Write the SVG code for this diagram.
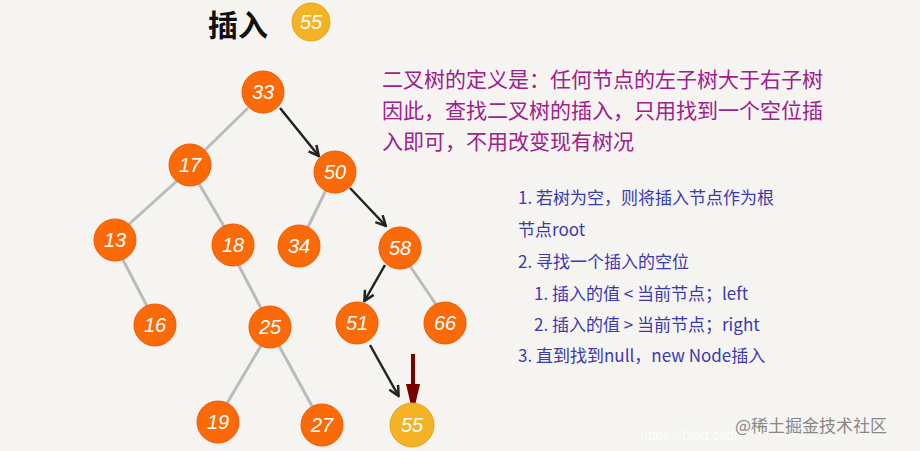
<svg xmlns="http://www.w3.org/2000/svg" width="920" height="451" viewBox="0 0 920 451">
<style>
.n circle{fill:#fb6a08;stroke:#f25a00;stroke-width:1}
.y circle{fill:#f4b324;stroke:#eaa21c}
.n text{fill:#fff;font-family:"Liberation Sans",sans-serif;font-size:20px;text-anchor:middle;font-style:italic}
.e{stroke:#bbb;stroke-width:3;fill:none}
.a{stroke:#222;stroke-width:2.5;fill:none;marker-end:url(#ah)}
.p{fill:#a0208c;font-family:"Noto Sans CJK SC",sans-serif;font-size:21px}
.b{fill:#3a3ab0;font-family:"Noto Sans CJK SC",sans-serif;font-size:17px}
</style>
<defs>
<marker id="ah" viewBox="0 0 10 10" refX="8" refY="5" markerWidth="5" markerHeight="5" orient="auto"><path d="M1,1 L9,5 L1,9" fill="none" stroke="#222" stroke-width="2"/></marker>
</defs>
<rect width="920" height="451" fill="#f5f4f1"/>
<text x="208" y="36" font-family="Noto Sans CJK SC,sans-serif" font-size="30" font-weight="bold" fill="#111">插入</text>
<g class="n y" id="t55"><circle cx="311" cy="22" r="19"/><text x="311" y="29">55</text></g>
<g id="edges">
<path class="e" d="M248,108 L205,150 M178,180 L128,225 M198,182 L225,228 M122,258 L148,308 M238,264 L262,310 M262,344 L226,405 M278,344 L312,406 M326,190 L307,229 M410,266 L437,306"/>
<path class="a" d="M280,108 L318,155"/>
<path class="a" d="M350,188 L385,225"/>
<path class="a" d="M385,265 L365,300"/>
<path class="a" d="M370,345 L398,395"/>
<path d="M413,354 L413,388" stroke="#7a0000" stroke-width="4"/>
<path d="M406,384 L420,384 L413,414 Z" fill="#7a0000"/>
</g>
<g class="n" id="n33"><circle cx="263" cy="92" r="21"/><text x="263" y="99">33</text></g>
<g class="n" id="n17"><circle cx="190" cy="165" r="21"/><text x="190" y="172">17</text></g>
<g class="n" id="n50"><circle cx="335" cy="172" r="21"/><text x="335" y="179">50</text></g>
<g class="n" id="n13"><circle cx="115" cy="240" r="21"/><text x="115" y="247">13</text></g>
<g class="n" id="n18"><circle cx="233" cy="245" r="21"/><text x="233" y="252">18</text></g>
<g class="n" id="n34"><circle cx="299" cy="246" r="21"/><text x="299" y="253">34</text></g>
<g class="n" id="n58"><circle cx="400" cy="248" r="21"/><text x="400" y="255">58</text></g>
<g class="n" id="n16"><circle cx="155" cy="325" r="21"/><text x="155" y="332">16</text></g>
<g class="n" id="n25"><circle cx="270" cy="327" r="21"/><text x="270" y="334">25</text></g>
<g class="n" id="n51"><circle cx="357" cy="323" r="21"/><text x="357" y="330">51</text></g>
<g class="n" id="n66"><circle cx="445" cy="323" r="21"/><text x="445" y="330">66</text></g>
<g class="n" id="n19"><circle cx="218" cy="422" r="21"/><text x="218" y="429">19</text></g>
<g class="n" id="n27"><circle cx="322" cy="425" r="21"/><text x="322" y="432">27</text></g>
<g class="n y" id="n55"><circle cx="412" cy="425" r="22"/><text x="412" y="432">55</text></g>
<text class="p" x="382" y="87">二叉树的定义是：任何节点的左子树大于右子树</text>
<text class="p" x="382" y="118">因此，查找二叉树的插入，只用找到一个空位插</text>
<text class="p" x="382" y="149">入即可，不用改变现有树况</text>
<text class="b" x="518" y="204">1. 若树为空，则将插入节点作为根</text>
<text class="b" x="518" y="236">节点root</text>
<text class="b" x="518" y="268">2. 寻找一个插入的空位</text>
<text class="b" x="534" y="300">1. 插入的值 &lt; 当前节点；left</text>
<text class="b" x="534" y="331">2. 插入的值 &gt; 当前节点；right</text>
<text class="b" x="518" y="362">3. 直到找到null，new Node插入</text>
<text x="640" y="440" font-family="Liberation Sans,sans-serif" font-size="14" fill="#fff" opacity="0.8">https://blog.csdn</text>
<text x="735" y="432" font-family="Noto Sans CJK SC,sans-serif" font-size="17" fill="#888">@稀土掘金技术社区</text>
</svg>
